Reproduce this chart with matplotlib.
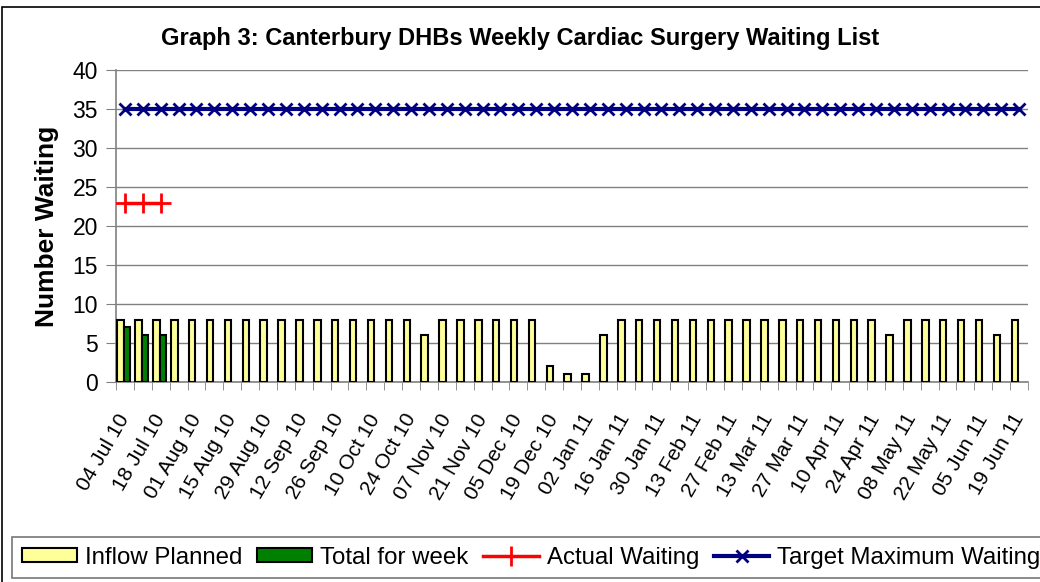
import matplotlib
matplotlib.use("Agg")
import matplotlib.pyplot as plt
import numpy as np
from matplotlib.patches import Rectangle
from matplotlib.lines import Line2D
from matplotlib.patches import Patch
import datetime as dt

plt.rcParams['font.family'] = ['Liberation Sans', 'DejaVu Sans']

start = dt.date(2010, 7, 4)
weeks = [start + dt.timedelta(days=7 * i) for i in range(51)]
week_labels = [d.strftime("%d %b %y") for d in weeks]

inflow_planned = [8, 8, 8, 8, 8, 8, 8, 8, 8, 8, 8, 8, 8, 8, 8, 8, 8, 6, 8, 8,
                  8, 8, 8, 8, 2, 1, 1, 6, 8, 8, 8, 8, 8, 8, 8, 8, 8, 8, 8, 8,
                  8, 8, 8, 6, 8, 8, 8, 8, 8, 6, 8]
total_for_week = [7, 6, 6]
actual_waiting = [23, 23, 23]
target_max = [35] * 51

fig = plt.figure(figsize=(10.4, 5.82), dpi=100)
ax = fig.add_axes([116 / 1040, 1 - 382 / 582, (1028 - 116) / 1040, (382 - 70) / 582])

x = np.arange(len(weeks))
w = 0.36
ax.bar(x - 0.24, inflow_planned, width=w, color='#FFFF99', edgecolor='black', linewidth=1.5, zorder=3)
ax.bar(np.arange(len(total_for_week)) + 0.12, total_for_week, width=w, color='#008000',
       edgecolor='black', linewidth=1.5, zorder=3)
ax.plot(np.arange(len(actual_waiting)), actual_waiting, color='#FF0000', lw=2.5,
        marker='+', markersize=14, mew=2, zorder=4)
ax.plot(x, target_max, color='#000080', lw=3, marker='x', markersize=9, mew=2, zorder=4)

ax.set_xlim(-0.5, len(weeks) - 0.5)
ax.set_ylim(0, 40)
ax.set_yticks(range(0, 41, 5))
ax.yaxis.grid(True, color='#808080', lw=1, zorder=0)
ax.set_axisbelow(True)
ax.tick_params(axis='y', labelsize=16.5, length=7, color='#808080', pad=6)

ax.set_xticks(x[::2])
ax.set_xticklabels(week_labels[::2], rotation=60, ha='right', va='center',
                   rotation_mode='anchor', fontsize=15)
ax.tick_params(axis='x', which='major', length=0, pad=24)
ax.set_xticks(np.arange(-0.5, len(weeks)), minor=True)
ax.tick_params(axis='x', which='minor', length=6, color='#808080')

for s in ['top', 'right']:
    ax.spines[s].set_visible(False)
for s in ['left', 'bottom']:
    ax.spines[s].set_color('#808080')
    ax.spines[s].set_linewidth(1.2)

ax.set_ylabel('Number Waiting', fontsize=19, fontweight='bold', labelpad=10)

fig.text(0.5, 1 - 38 / 582, 'Graph 3: Canterbury DHBs Weekly Cardiac Surgery Waiting List',
         ha='center', va='center', fontsize=17, fontweight='bold')

# outer chart border
fig.patches.append(Rectangle((2 / 1040, -0.1), 1.2, 1 - 7 / 582 + 0.1, transform=fig.transFigure,
                             fill=False, ec='black', lw=1.2))

handles = [Patch(facecolor='#FFFF99', edgecolor='black', lw=1.5),
           Patch(facecolor='#008000', edgecolor='black', lw=1.5),
           Line2D([], [], color='#FF0000', lw=2.5, marker='+', markersize=14, mew=2),
           Line2D([], [], color='#000080', lw=3, marker='x', markersize=9, mew=2)]
labels = ['Inflow Planned', 'Total for week', 'Actual Waiting', 'Target Maximum Waiting']
leg = fig.legend(handles, labels, loc='upper left', bbox_to_anchor=(12 / 1040, 1 - 537 / 582),
                 ncol=4, fontsize=17.3, handlelength=2.3, handleheight=0.55, handletextpad=0.33,
                 columnspacing=0.62, borderaxespad=0, frameon=True, fancybox=False,
                 borderpad=0.4)
leg.get_frame().set_edgecolor('#555555')
leg.get_frame().set_linewidth(1.2)

fig.savefig('out.png', dpi=100)
